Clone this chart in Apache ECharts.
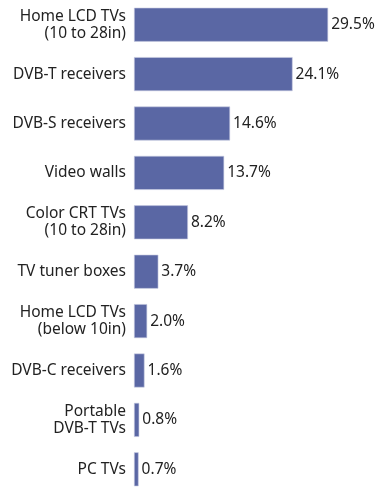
<!DOCTYPE html>
<html>
<head>
<meta charset="utf-8">
<script src="https://cdn.jsdelivr.net/npm/echarts@6/dist/echarts.min.js"></script>
<style>
  html, body { margin: 0; padding: 0; background: #ffffff; }
  #chart { width: 376px; height: 494px; }
</style>
</head>
<body>
<div id="chart"></div>
<script>
// Product categories, top to bottom
const categories = [
  'Home LCD TVs\n(10 to 28in)',
  'DVB-T receivers',
  'DVB-S receivers',
  'Video walls',
  'Color CRT TVs\n(10 to 28in)',
  'TV tuner boxes',
  'Home LCD TVs\n(below 10in)',
  'DVB-C receivers',
  'Portable\nDVB-T TVs',
  'PC TVs'
];

// Share of units, percent
const shares = [29.5, 24.1, 14.6, 13.7, 8.2, 3.7, 2.0, 1.6, 0.8, 0.7];

const chart = echarts.init(document.getElementById('chart'), null, { renderer: 'canvas' });

chart.setOption({
  animation: false,
  backgroundColor: '#ffffff',
  grid: { left: 134, width: 236.9, top: -1.3, height: 506.7, containLabel: false },
  xAxis: {
    type: 'value',
    min: 0,
    max: 36,
    show: false
  },
  yAxis: {
    type: 'category',
    data: categories,
    inverse: true,
    axisLine: { show: false },
    axisTick: { show: false },
    axisLabel: {
      margin: 8,
      color: '#222222',
      fontFamily: 'Noto Sans',
      fontSize: 15.5,
      lineHeight: 17,
      align: 'right'
    }
  },
  series: [{
    type: 'bar',
    data: shares,
    barWidth: 34,
    itemStyle: {
      color: '#5a67a4',
      borderColor: '#c9cde2',
      borderWidth: 0.6
    },
    label: {
      show: true,
      position: 'right',
      distance: 3,
      color: '#222222',
      fontFamily: 'Noto Sans',
      fontSize: 15.5,
      formatter: p => p.value.toFixed(1) + '%'
    }
  }]
});
</script>
</body>
</html>
